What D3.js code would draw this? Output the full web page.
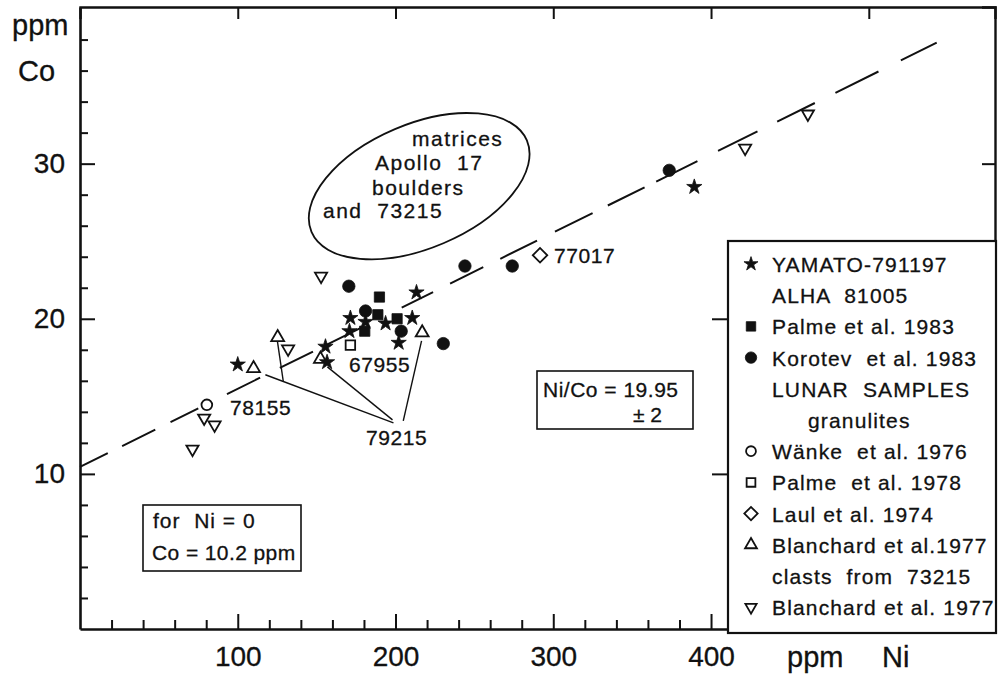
<!DOCTYPE html>
<html>
<head>
<meta charset="utf-8">
<script src="https://cdn.jsdelivr.net/npm/d3@7"></script>
<style>
  body { margin: 0; background: #fff; }
  svg { display: block; font-family: "Liberation Sans", Arial, sans-serif; }
  .tx { font-size: 21px; letter-spacing: 1.5px; white-space: pre; fill: #111; stroke: #111; stroke-width: 0.3px; }
  .lg { letter-spacing: 1.15px; }
</style>
</head>
<body>
<div id="chart"></div>
<script>
// values: [Ni ppm, Co ppm]
const yamato = [[100,17.05],[155.6,18.2],[156.6,17.2],[171.4,20.05],[170.8,19.2],[181,19.8],
                [193.7,19.7],[210.6,20.05],[213.3,21.7],[202,18.45],[389.4,28.5]]
const palme1983 = [[189.8,21.4],[188.8,20.26],[201,20.0],[180.5,19.2]]
const korotev1983 = [[170.4,22.1],[181,20.5],[203.6,19.2],[230.3,18.4],[244,23.4],[274,23.4],[373.5,29.57]]
const wanke1976 = [[80.4,14.45]]
const palme1978 = [[171.4,18.3]]
const laul1974 = [[291.6,24.1]]
const blanchardGranulites = [[110,16.8],[125.3,18.8],[152.4,17.4],[216.9,19.1]]
const blanchardClasts = [[152.8,22.75],[131.9,18.06],[78.7,13.6],[85.3,13.16],[71.3,11.6],[421.6,31.0],[461.4,33.2]]

// regression line Ni/Co = 19.95
const fitLine = [[0,10.45],[545,37.9]]

const xMajor = [100,200,300,400]
const xMinor = [20,40,60,80,120,140,160,180,220,240,260,280,320,340,360,380]
const xTop = [100,200,300,400,500]
const yMajor = [10,20,30]
const yMinor = [2,4,6,8,12,14,16,18,22,24,26,28,32,34,36,38]

const legendRows = [
  {label: "YAMATO-791197", sym: "star"},
  {label: "ALHA  81005", sym: null},
  {label: "Palme et al. 1983", sym: "square"},
  {label: "Korotev  et al. 1983", sym: "circle"},
  {label: "LUNAR  SAMPLES", sym: null},
  {label: "granulites", sym: null, indent: true},
  {label: "Wänke  et al. 1976", sym: "ocircle"},
  {label: "Palme  et al. 1978", sym: "osquare"},
  {label: "Laul et al. 1974", sym: "diamond"},
  {label: "Blanchard et al.1977", sym: "tri"},
  {label: "clasts  from  73215", sym: null},
  {label: "Blanchard et al. 1977", sym: "dtri"}
]

// leader lines for the 79215 label, [from, to] in data units
const leaders = [
  [[117.5,16.39],[198.7,13.29]],
  [[125.1,18.58],[128.9,15.94]],
  [[156.8,16.9],[198.1,13.48]],
  [[216.5,18.58],[204.9,13.42]]
]

const width = 999, height = 679

let svg = d3.select("#chart").append("svg")
  .attr("width", width).attr("height", height)
svg.append("rect").attr("width", width).attr("height", height).attr("fill", "#fff")

let x = d3.scaleLinear().domain([0, 580]).range([80, 995])
let y = d3.scaleLinear().domain([0, 40.1]).range([629, 7])

// symbol makers
const symbols = {
  star:    {type: d3.symbolStar,     size: 72,  fill: "#111", rot: 0},
  square:  {type: d3.symbolSquare,   size: 105, fill: "#111", rot: 0},
  circle:  {type: d3.symbolCircle,   size: 120, fill: "#111", rot: 0},
  ocircle: {type: d3.symbolCircle,   size: 90,  fill: "#fff", rot: 0},
  osquare: {type: d3.symbolSquare,   size: 90,  fill: "#fff", rot: 0},
  diamond: {type: d3.symbolSquare,   size: 105, fill: "#fff", rot: 45},
  tri:     {type: d3.symbolTriangle, size: 72,  fill: "#fff", rot: 0},
  dtri:    {type: d3.symbolTriangle, size: 64,  fill: "#fff", rot: 180}
}

function drawSym(g, key, cx, cy, scale) {
  let s = symbols[key]
  g.append("path")
    .attr("d", d3.symbol().type(s.type).size(s.size * (scale || 1))())
    .attr("transform", `translate(${cx},${cy}) rotate(${s.rot})`)
    .attr("fill", s.fill)
    .attr("stroke", "#111")
    .attr("stroke-width", s.fill === "#fff" ? 1.8 : 0.8)
}

// axes
function styleAxis(g, w) {
  g.select(".domain").attr("stroke", "#111").attr("stroke-width", w)
  g.selectAll(".tick line").attr("stroke", "#111").attr("stroke-width", 2)
  g.selectAll(".tick text").attr("fill", "#111").style("font-size", "28px")
    .attr("stroke", "#111").attr("stroke-width", 0.3)
    .style("font-family", '"Liberation Sans", Arial, sans-serif')
}

let gl = svg.append("g").attr("transform", `translate(${x(0)},0)`)
  .call(d3.axisLeft(y).tickValues(yMajor).tickSizeInner(-15).tickSizeOuter(0).tickPadding(15))
styleAxis(gl, 2.6)
svg.append("g").attr("transform", `translate(${x(0)},0)`)
  .call(d3.axisLeft(y).tickValues(yMinor).tickSize(-8).tickFormat(""))
  .call(g => { g.select(".domain").remove(); styleAxis(g, 0) })

let gb = svg.append("g").attr("transform", `translate(0,${y(0)})`)
  .call(d3.axisBottom(x).tickValues(xMajor).tickSizeInner(-15).tickSizeOuter(0).tickPadding(17))
styleAxis(gb, 2.6)
svg.append("g").attr("transform", `translate(0,${y(0)})`)
  .call(d3.axisBottom(x).tickValues(xMinor).tickSize(-9).tickFormat(""))
  .call(g => { g.select(".domain").remove(); styleAxis(g, 0) })

let gt = svg.append("g").attr("transform", `translate(0,${y.range()[1]})`)
  .call(d3.axisTop(x).tickValues(xTop).tickSize(-12).tickFormat(""))
styleAxis(gt, 2.4)

let gr = svg.append("g").attr("transform", `translate(${x.range()[1]},0)`)
  .call(d3.axisRight(y).tickValues([30]).tickSize(-13).tickFormat(""))
styleAxis(gr, 2.4)

// axis titles
const titleStyle = t => t.style("font-size", "29px").attr("fill", "#111").attr("stroke", "#111").attr("stroke-width", 0.3)
svg.append("text").attr("x", 12).attr("y", 35).text("ppm").call(titleStyle)
svg.append("text").attr("x", 18).attr("y", 81).text("Co").call(titleStyle)
svg.append("text").attr("x", 787).attr("y", 667).text("ppm").call(titleStyle)
svg.append("text").attr("x", 882).attr("y", 667).text("Ni").call(titleStyle)

// dashed regression line (hand-drawn dash rhythm)
svg.append("path")
  .attr("d", d3.line().x(d => x(d[0])).y(d => y(d[1]))(fitLine))
  .attr("fill", "none").attr("stroke", "#111").attr("stroke-width", 2)
  .attr("stroke-dasharray", "31,16,37,17,31,32,37,22,37,11,43,45,35,19,37,19,41,20,42,17,41,13,46,23,44,22,42,23,48,25,40,30")

// leader lines
svg.append("g").selectAll("line").data(leaders).join("line")
  .attr("x1", d => x(d[0][0])).attr("y1", d => y(d[0][1]))
  .attr("x2", d => x(d[1][0])).attr("y2", d => y(d[1][1]))
  .attr("stroke", "#111").attr("stroke-width", 1.4)

// ellipse annotation
let ell = svg.append("g").attr("transform", `translate(${x(215)},${y(28.55)})`)
ell.append("ellipse").attr("rx", 117).attr("ry", 62).attr("transform", "rotate(-23)")
  .attr("fill", "none").attr("stroke", "#111").attr("stroke-width", 1.8)
const ellText = [["matrices", 412, 146], ["Apollo  17", 375, 170], ["boulders", 372, 195], ["and  73215", 323, 218]]
svg.append("g").selectAll("text").data(ellText).join("text").attr("class", "tx")
  .attr("x", d => d[1]).attr("y", d => d[2]).text(d => d[0])

// sample labels
const sampleLabels = [["78155", 230, 415], ["67955", 349, 372], ["77017", 554, 263], ["79215", 366, 445]]
svg.append("g").selectAll("text").data(sampleLabels).join("text").attr("class", "tx")
  .style("letter-spacing", "0.6px")
  .attr("x", d => d[1]).attr("y", d => d[2]).text(d => d[0])

// boxes
svg.append("rect").attr("x", 143).attr("y", 505).attr("width", 158).attr("height", 66)
  .attr("fill", "#fff").attr("stroke", "#111").attr("stroke-width", 1.6)
svg.append("text").attr("class", "tx").attr("x", 153).attr("y", 528).text("for  Ni = 0").style("letter-spacing", "1px")
svg.append("text").attr("class", "tx").attr("x", 152).attr("y", 560).text("Co = 10.2 ppm").style("letter-spacing", "0.4px")

svg.append("rect").attr("x", 537).attr("y", 371).attr("width", 156).attr("height", 58)
  .attr("fill", "#fff").attr("stroke", "#111").attr("stroke-width", 1.6)
svg.append("text").attr("class", "tx").attr("x", 543).attr("y", 397).text("Ni/Co = 19.95").style("letter-spacing", "0.5px")
svg.append("text").attr("class", "tx").attr("x", 633).attr("y", 422).text("± 2").style("letter-spacing", "0px")

// data points: open symbols first, filled on top
const plotSets = [
  [blanchardClasts, "dtri"], [blanchardGranulites, "tri"], [wanke1976, "ocircle"],
  [palme1978, "osquare"], [laul1974, "diamond"],
  [korotev1983, "circle"], [palme1983, "square"], [yamato, "star"]
]
let pts = svg.append("g")
for (let [arr, key] of plotSets) {
  for (let d of arr) drawSym(pts, key, x(d[0]), y(d[1]))
}

// legend
let lg = svg.append("g")
lg.append("rect").attr("x", 728).attr("y", 241).attr("width", 268).attr("height", 392)
  .attr("fill", "#fff").attr("stroke", "#111").attr("stroke-width", 2.2)
// right-axis ticks at 10 and 20 sit on the legend edge
let gr2 = svg.append("g").attr("transform", "translate(728,0)")
  .call(d3.axisRight(y).tickValues([10, 20]).tickSize(-16).tickFormat(""))
gr2.select(".domain").remove()
styleAxis(gr2, 0)

legendRows.forEach((r, i) => {
  let base = 272 + i * 31.2
  lg.append("text").attr("class", "tx lg").attr("x", r.indent ? 808 : 772).attr("y", base).text(r.label)
  if (r.sym) drawSym(lg, r.sym, 751, base - 8, 0.85)
})
</script>
</body>
</html>
